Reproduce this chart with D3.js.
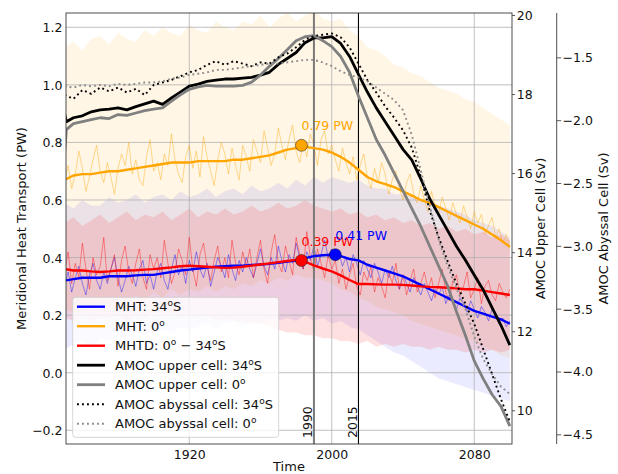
<!DOCTYPE html>
<html>
<head>
<meta charset="utf-8">
<script src="https://cdn.jsdelivr.net/npm/d3@7"></script>
<style>
  body { margin: 0; background: #fff; }
  svg { display: block; font-family: "DejaVu Sans", sans-serif; }
</style>
</head>
<body>
<svg id="chart" width="618" height="474"></svg>
<script>
// ---------- data ----------
// five-year sampling for smoothed series and ensemble spread
const smoothYears = d3.range(1850, 2101, 5);
// two-year sampling for single-member (noisy) series
const noisyYears = d3.range(1850, 2101, 2);
// AMOC upper-cell series carry an extra point for the spin-up jump
const amocUpperYears = [1850, 1851].concat(d3.range(1855, 2101, 5));

// Meridional heat transport, smoothed (PW)
const mht34Smooth = [0.32,0.325,0.33,0.33,0.33,0.335,0.335,0.335,0.338,0.34,
  0.34,0.345,0.35,0.355,0.358,0.362,0.365,0.368,0.37,0.372,
  0.372,0.374,0.376,0.378,0.382,0.386,0.39,0.398,0.405,0.408,
  0.41,0.405,0.395,0.39,0.375,0.365,0.355,0.345,0.335,0.32,
  0.305,0.29,0.275,0.26,0.245,0.23,0.215,0.205,0.195,0.185,0.17];
const mht0Smooth = [0.67,0.685,0.69,0.69,0.695,0.70,0.70,0.705,0.71,0.715,
  0.72,0.725,0.73,0.73,0.73,0.735,0.735,0.735,0.735,0.74,
  0.74,0.745,0.75,0.755,0.765,0.775,0.78,0.785,0.78,0.775,
  0.765,0.75,0.73,0.705,0.68,0.665,0.655,0.645,0.63,0.615,
  0.60,0.59,0.575,0.56,0.545,0.53,0.515,0.50,0.48,0.46,0.437];
const mhtdSmooth = [0.36,0.355,0.355,0.352,0.35,0.352,0.355,0.355,0.356,0.358,
  0.36,0.363,0.366,0.37,0.372,0.37,0.368,0.366,0.364,0.365,
  0.368,0.372,0.376,0.38,0.384,0.388,0.392,0.386,0.373,0.362,
  0.352,0.338,0.322,0.308,0.308,0.307,0.306,0.306,0.305,0.303,
  0.30,0.298,0.297,0.295,0.293,0.29,0.29,0.285,0.28,0.275,0.27];

// Single-member heat transport (PW)
const mht34Annual = [0.30,0.35,0.28,0.33,0.37,0.31,0.27,0.34,0.38,0.32,0.29,0.35,0.31,0.36,0.40,0.33,0.28,0.32,0.37,0.34,0.30,0.36,0.39,0.31,0.34,0.29,
  0.35,0.38,0.32,0.29,0.36,0.41,0.34,0.37,0.31,0.39,0.35,0.42,0.36,0.33,0.38,0.30,0.35,0.40,0.37,0.33,0.41,0.36,0.32,0.39,0.35,
  0.40,0.36,0.33,0.38,0.43,0.37,0.34,0.40,0.36,0.44,0.39,0.35,0.41,0.38,0.45,0.40,0.36,0.42,0.39,0.44,0.37,0.41,0.46,0.40,0.43,
  0.39,0.42,0.37,0.40,0.35,0.41,0.38,0.34,0.39,0.36,0.33,0.38,0.35,0.31,0.36,0.33,0.37,0.32,0.29,0.34,0.31,0.28,0.33,0.30,0.27,
  0.31,0.28,0.25,0.29,0.27,0.30,0.24,0.27,0.25,0.22,0.26,0.24,0.21,0.25,0.22,0.19,0.23,0.21,0.18,0.22,0.20,0.17,0.19,0.16,0.18];
const mht0Annual = [0.66,0.72,0.64,0.69,0.77,0.71,0.63,0.68,0.74,0.79,0.70,0.66,0.73,0.68,0.62,0.71,0.76,0.72,0.80,0.69,0.74,0.67,0.65,0.75,0.81,0.70,
  0.73,0.67,0.76,0.72,0.83,0.74,0.69,0.66,0.75,0.79,0.71,0.77,0.68,0.82,0.75,0.70,0.65,0.74,0.80,0.76,0.69,0.78,0.72,0.67,0.79,
  0.75,0.70,0.81,0.77,0.73,0.84,0.78,0.72,0.76,0.85,0.79,0.74,0.81,0.86,0.77,0.73,0.80,0.75,0.83,0.79,0.72,0.81,0.84,0.76,0.79,
  0.74,0.70,0.78,0.73,0.69,0.75,0.67,0.72,0.76,0.68,0.64,0.71,0.66,0.73,0.69,0.62,0.67,0.70,0.64,0.60,0.66,0.69,0.62,0.59,0.65,
  0.60,0.56,0.63,0.58,0.55,0.61,0.57,0.53,0.59,0.55,0.52,0.58,0.54,0.50,0.56,0.52,0.55,0.48,0.51,0.54,0.47,0.50,0.45,0.48,0.43];
const mhtdAnnual = [0.35,0.42,0.31,0.38,0.33,0.45,0.36,0.29,0.40,0.34,0.37,0.47,0.32,0.36,0.41,0.30,0.39,0.44,0.35,0.31,0.38,0.43,0.33,0.29,0.41,0.36,
  0.40,0.33,0.46,0.38,0.31,0.35,0.43,0.39,0.34,0.47,0.36,0.30,0.41,0.45,0.37,0.32,0.39,0.44,0.35,0.40,0.33,0.46,0.38,0.34,0.42,
  0.37,0.43,0.33,0.40,0.46,0.36,0.31,0.42,0.48,0.38,0.35,0.44,0.39,0.34,0.47,0.41,0.36,0.49,0.40,0.35,0.43,0.38,0.33,0.41,0.36,
  0.39,0.31,0.36,0.29,0.34,0.38,0.30,0.27,0.35,0.32,0.37,0.28,0.33,0.30,0.26,0.35,0.31,0.38,0.29,0.34,0.27,0.32,0.36,0.28,0.31,
  0.35,0.29,0.33,0.26,0.31,0.36,0.28,0.25,0.32,0.34,0.27,0.30,0.35,0.26,0.29,0.33,0.24,0.30,0.32,0.27,0.25,0.31,0.28,0.26,0.29];

// Ensemble spread of heat transport (PW)
const mht34Upper = [0.59,0.57,0.60,0.58,0.58,0.61,0.59,0.60,0.62,0.59,
  0.61,0.62,0.60,0.63,0.61,0.62,0.64,0.61,0.63,0.64,
  0.62,0.65,0.63,0.64,0.66,0.64,0.67,0.65,0.68,0.66,
  0.68,0.67,0.66,0.67,0.65,0.64,0.64,0.62,0.62,0.61,
  0.60,0.59,0.58,0.57,0.56,0.55,0.53,0.52,0.51,0.49,0.47];
const mht34Lower = [0.08,0.10,0.11,0.09,0.12,0.11,0.13,0.12,0.14,0.13,
  0.14,0.15,0.14,0.16,0.15,0.16,0.17,0.15,0.17,0.18,
  0.16,0.18,0.17,0.19,0.18,0.19,0.18,0.20,0.18,0.19,
  0.17,0.18,0.16,0.15,0.13,0.11,0.09,0.07,0.06,0.04,
  0.02,0.00,-0.02,-0.03,-0.04,-0.05,-0.06,-0.07,-0.08,-0.09,-0.10];
const mht0Upper = [1.13,1.15,1.12,1.16,1.17,1.14,1.18,1.16,1.15,1.19,
  1.17,1.20,1.18,1.17,1.21,1.19,1.18,1.22,1.20,1.19,
  1.22,1.21,1.24,1.20,1.23,1.25,1.22,1.24,1.26,1.23,
  1.22,1.23,1.19,1.17,1.13,1.12,1.10,1.07,1.06,1.04,
  1.03,1.01,0.99,0.98,0.97,0.95,0.94,0.92,0.90,0.88,0.86];
const mht0Lower = [0.22,0.21,0.24,0.22,0.25,0.23,0.26,0.24,0.27,0.25,
  0.28,0.26,0.29,0.27,0.29,0.28,0.30,0.28,0.30,0.29,
  0.31,0.30,0.32,0.31,0.33,0.32,0.34,0.33,0.33,0.32,
  0.31,0.29,0.28,0.26,0.25,0.23,0.22,0.21,0.20,0.18,
  0.17,0.16,0.15,0.14,0.13,0.12,0.11,0.09,0.08,0.06,0.05];
const mhtdUpper = [0.52,0.54,0.51,0.53,0.55,0.52,0.54,0.56,0.53,0.55,
  0.54,0.56,0.53,0.55,0.57,0.54,0.56,0.55,0.57,0.55,
  0.56,0.58,0.56,0.57,0.59,0.57,0.58,0.60,0.58,0.57,
  0.56,0.57,0.55,0.56,0.54,0.55,0.53,0.54,0.52,0.53,
  0.51,0.52,0.50,0.51,0.49,0.50,0.48,0.49,0.47,0.48,0.46];
const mhtdLower = [0.19,0.18,0.20,0.18,0.19,0.19,0.20,0.18,0.20,0.19,
  0.21,0.20,0.21,0.19,0.20,0.19,0.20,0.18,0.19,0.18,
  0.18,0.17,0.17,0.16,0.15,0.14,0.14,0.13,0.13,0.12,
  0.12,0.11,0.11,0.10,0.11,0.09,0.10,0.09,0.10,0.09,
  0.09,0.08,0.09,0.08,0.08,0.07,0.08,0.07,0.08,0.07,0.08];

// AMOC upper cell (Sv)
const amocUpper34 = [17.50,17.30,17.40,17.45,17.55,17.60,17.62,17.65,17.60,17.68,17.75,
  17.82,17.74,17.90,18.05,18.20,18.25,18.32,18.35,18.38,18.38,
  18.40,18.42,18.48,18.55,18.75,18.90,19.05,19.30,19.42,19.42,
  19.45,19.28,18.95,18.50,18.05,17.65,17.30,16.95,16.60,16.33,
  15.85,15.35,14.95,14.55,14.15,13.80,13.42,13.05,12.60,12.15,11.65];
const amocUpper0 = [16.50,17.10,17.25,17.30,17.35,17.40,17.38,17.48,17.46,17.52,17.58,
  17.62,17.65,17.82,17.98,18.12,18.18,18.22,18.20,18.20,18.20,
  18.22,18.30,18.48,18.70,18.90,19.12,19.35,19.45,19.48,19.35,
  19.20,18.95,18.55,17.95,17.40,16.85,16.45,16.00,15.55,15.10,
  14.65,14.15,13.65,13.15,12.50,11.90,11.25,10.80,10.40,10.10,9.60];

// AMOC abyssal cell (Sv)
const amocAbyss34 = [-1.80,-1.83,-1.76,-1.79,-1.74,-1.77,-1.74,-1.78,-1.75,-1.80,
  -1.72,-1.70,-1.68,-1.65,-1.62,-1.60,-1.56,-1.53,-1.56,-1.53,
  -1.55,-1.57,-1.54,-1.55,-1.50,-1.47,-1.42,-1.36,-1.33,-1.32,
  -1.31,-1.34,-1.42,-1.55,-1.68,-1.78,-1.89,-1.98,-2.08,-2.22,
  -2.45,-2.72,-2.93,-3.12,-3.30,-3.46,-3.62,-3.82,-4.02,-4.22,-4.40];
const amocAbyss0 = [-1.73,-1.74,-1.72,-1.73,-1.72,-1.73,-1.71,-1.72,-1.71,-1.70,
  -1.70,-1.69,-1.67,-1.66,-1.64,-1.63,-1.62,-1.60,-1.60,-1.59,
  -1.58,-1.57,-1.56,-1.55,-1.55,-1.54,-1.53,-1.52,-1.52,-1.54,
  -1.57,-1.61,-1.64,-1.66,-1.69,-1.74,-1.79,-1.84,-1.92,-2.12,
  -2.40,-2.68,-2.95,-3.16,-3.34,-3.50,-3.72,-3.90,-4.02,-4.12,-4.18];

// Peak heat transport markers
const peakYears  = [1983, 1983, 2002];
const peakValues = [0.79, 0.39, 0.41];
const peakColors = ["#ffa500", "#ff0000", "#0000ff"];

// Reference years
const refYears = [1990, 2015];

// Ticks
const yearTicks  = [1920, 2000, 2080];
const mhtTicks   = [-0.2, 0.0, 0.2, 0.4, 0.6, 0.8, 1.0, 1.2];
const upperTicks = [10, 12, 14, 16, 18, 20];
const abyssTicks = [-4.5, -4.0, -3.5, -3.0, -2.5, -2.0, -1.5];

// Legend entries ("^o" marks a superscript o)
const legendLabels = ["MHT: 34^oS", "MHT: 0^o", "MHTD: 0^o \u2212 34^oS",
  "AMOC upper cell: 34^oS", "AMOC upper cell: 0^o",
  "AMOC abyssal cell: 34^oS", "AMOC abyssal cell: 0^o"];

// ---------- layout ----------
const svg = d3.select("#chart");
const P = { left: 66, right: 512, top: 13, bottom: 444 };
const abyssSpineX = 556.7;

const x  = d3.scaleLinear().domain([1850.8, 2101.2]).range([P.left, P.right]);
const yL = d3.scaleLinear().domain([-0.2477, 1.2496]).range([P.bottom, P.top]);
const yU = d3.scaleLinear().domain([9.147, 20.05]).range([P.bottom, P.top]);
const yA = d3.scaleLinear().domain([-4.577, -1.147]).range([P.bottom, P.top]);

svg.append("defs").append("clipPath").attr("id", "plotclip")
  .append("rect").attr("x", P.left).attr("y", P.top)
  .attr("width", P.right - P.left).attr("height", P.bottom - P.top);

const plot = svg.append("g").attr("clip-path", "url(#plotclip)");

const area = (yrs, lo, hi, sc) => d3.area()
  .x((d, i) => x(yrs[i])).y0((d, i) => sc(lo[i])).y1((d, i) => sc(hi[i]))(lo);
const line = (yrs, vals, sc) => d3.line()
  .x((d, i) => x(yrs[i])).y(d => sc(d))(vals.slice(0, yrs.length));

// ensemble spread
[[mht0Lower, mht0Upper, "#ffa500", 0.10],
 [mht34Lower, mht34Upper, "#0000ff", 0.08],
 [mhtdLower, mhtdUpper, "#ff0000", 0.12]].forEach(([lo, hi, c, a]) => {
  plot.append("path").attr("d", area(smoothYears, lo, hi, yL))
    .attr("fill", c).attr("fill-opacity", a).attr("stroke", "none");
});

// grid
const grid = plot.append("g").attr("stroke", "#b0b0b0").attr("stroke-width", 0.8);
mhtTicks.forEach(t => grid.append("line")
  .attr("x1", P.left).attr("x2", P.right).attr("y1", yL(t)).attr("y2", yL(t)));
yearTicks.forEach(t => grid.append("line")
  .attr("y1", P.top).attr("y2", P.bottom).attr("x1", x(t)).attr("x2", x(t)));

// single-member series
[[mht34Annual, "#0000ff"], [mht0Annual, "#ffa500"], [mhtdAnnual, "#ff0000"]].forEach(([v, c]) => {
  plot.append("path").attr("d", line(noisyYears, v, yL))
    .attr("fill", "none").attr("stroke", c).attr("stroke-width", 0.8).attr("stroke-opacity", 0.5);
});

// reference years
plot.append("line").attr("x1", x(refYears[0])).attr("x2", x(refYears[0]))
  .attr("y1", P.top).attr("y2", P.bottom).attr("stroke", "#7a7a7a").attr("stroke-width", 2);
plot.append("line").attr("x1", x(refYears[1])).attr("x2", x(refYears[1]))
  .attr("y1", P.top).attr("y2", P.bottom).attr("stroke", "#000").attr("stroke-width", 1.1);
refYears.forEach(yr => {
  svg.append("text")
    .attr("transform", `translate(${x(yr) - 1.8},${438}) rotate(-90)`)
    .attr("font-size", 12.5).attr("fill", "#111").text(yr);
});

// smoothed heat transport
[[mht34Smooth, "#0000ff"], [mht0Smooth, "#ffa500"], [mhtdSmooth, "#ff0000"]].forEach(([v, c]) => {
  plot.append("path").attr("d", line(smoothYears, v, yL))
    .attr("fill", "none").attr("stroke", c).attr("stroke-width", 2.4)
    .attr("stroke-linejoin", "round");
});

// peak markers
peakYears.forEach((yr, i) => {
  plot.append("circle").attr("cx", x(yr)).attr("cy", yL(peakValues[i])).attr("r", 6)
    .attr("fill", peakColors[i]).attr("stroke", "#000").attr("stroke-opacity", 0.55)
    .attr("stroke-width", 0.8);
});
peakYears.forEach((yr, i) => {
  svg.append("text").attr("x", x(yr)).attr("y", yL(peakValues[i]) - 14.8)
    .attr("font-size", 12.5).attr("fill", peakColors[i])
    .text(peakValues[i].toFixed(2) + " PW");
});

// AMOC upper cell
[[amocUpper34, "#000000"], [amocUpper0, "#808080"]].forEach(([v, c]) => {
  plot.append("path").attr("d", line(amocUpperYears, v, yU))
    .attr("fill", "none").attr("stroke", c).attr("stroke-width", 2.8)
    .attr("stroke-linejoin", "round");
});
// AMOC abyssal cell
[[amocAbyss34, "#000000"], [amocAbyss0, "#8c8c8c"]].forEach(([v, c]) => {
  plot.append("path").attr("d", line(smoothYears, v, yA))
    .attr("fill", "none").attr("stroke", c).attr("stroke-width", 1.9)
    .attr("stroke-dasharray", "1.9,3.1");
});

// ---------- axes ----------
const minus = s => s.replace("-", "\u2212");
const styleAxis = g => {
  g.select(".domain").remove();
  g.selectAll("text").attr("font-size", 12.5).attr("fill", "#111")
    .attr("font-family", "DejaVu Sans, sans-serif");
  g.selectAll(".tick line").attr("stroke", "#333").attr("stroke-width", 0.8);
};

svg.append("g").attr("transform", `translate(${P.left},0)`)
  .call(d3.axisLeft(yL).tickValues(mhtTicks).tickSize(0).tickPadding(3.5)
    .tickFormat(d => minus(d3.format(".1f")(d))))
  .call(styleAxis).selectAll("text").attr("dy", "0.36em");

svg.append("g").attr("transform", `translate(0,${P.bottom})`)
  .call(d3.axisBottom(x).tickValues(yearTicks).tickSize(0).tickPadding(6)
    .tickFormat(d3.format("d")))
  .call(styleAxis);

svg.append("g").attr("transform", `translate(${P.right},0)`)
  .call(d3.axisRight(yU).tickValues(upperTicks).tickSize(3).tickPadding(1.8)
    .tickFormat(d3.format("d")))
  .call(styleAxis).selectAll("text").attr("dy", "0.36em");

svg.append("g").attr("transform", `translate(${abyssSpineX},0)`)
  .call(d3.axisRight(yA).tickValues(abyssTicks).tickSize(4.5).tickPadding(1.3)
    .tickFormat(d => minus(d3.format(".1f")(d))))
  .call(styleAxis).selectAll("text").attr("dy", "0.36em");

// spines
svg.append("rect").attr("x", P.left).attr("y", P.top)
  .attr("width", P.right - P.left).attr("height", P.bottom - P.top)
  .attr("fill", "none").attr("stroke", "#3a3a3a").attr("stroke-width", 0.9);
svg.append("line").attr("x1", abyssSpineX).attr("x2", abyssSpineX)
  .attr("y1", P.top).attr("y2", P.bottom).attr("stroke", "#3a3a3a").attr("stroke-width", 0.9);

// axis titles
const midY = (P.top + P.bottom) / 2;
svg.append("text").attr("transform", `translate(26,${midY}) rotate(-90)`)
  .attr("text-anchor", "middle").attr("font-size", 13).attr("fill", "#111")
  .text("Meridional Heat Transport (PW)");
svg.append("text").attr("transform", `translate(544.5,${midY}) rotate(-90)`)
  .attr("text-anchor", "middle").attr("font-size", 13).attr("fill", "#111")
  .text("AMOC Upper Cell (Sv)");
svg.append("text").attr("transform", `translate(607.5,${midY}) rotate(-90)`)
  .attr("text-anchor", "middle").attr("font-size", 13).attr("fill", "#111")
  .text("AMOC Abyssal Cell (Sv)");
svg.append("text").attr("x", (P.left + P.right) / 2).attr("y", 471)
  .attr("text-anchor", "middle").attr("font-size", 13).attr("fill", "#111").text("Time");

// ---------- legend ----------
const legendStyles = [
  { c: "#0000ff", w: 2.4 }, { c: "#ffa500", w: 2.4 }, { c: "#ff0000", w: 2.4 },
  { c: "#000000", w: 2.8 }, { c: "#808080", w: 2.8 },
  { c: "#000000", w: 1.9, dash: "1.9,3.1" }, { c: "#8c8c8c", w: 1.9, dash: "1.9,3.1" }];
const lg = svg.append("g");
lg.append("rect").attr("x", 72.7).attr("y", 297.3).attr("width", 206).attr("height", 140)
  .attr("rx", 3).attr("fill", "#fff").attr("fill-opacity", 0.8)
  .attr("stroke", "#cccccc").attr("stroke-width", 0.8);
legendLabels.forEach((lab, i) => {
  const cy = 306.7 + i * 19.5;
  const s = legendStyles[i];
  lg.append("line").attr("x1", 77).attr("x2", 105).attr("y1", cy).attr("y2", cy)
    .attr("stroke", s.c).attr("stroke-width", s.w)
    .attr("stroke-dasharray", s.dash || null);
  const t = lg.append("text").attr("x", 115).attr("y", cy + 4.6)
    .attr("font-size", 13).attr("fill", "#111");
  const parts = lab.split("^o");
  parts.forEach((p, j) => {
    if (p.length) t.append("tspan").attr("dy", j > 0 ? 5 : null).text(p);
    else if (j > 0) t.append("tspan").attr("dy", 5).text("");
    if (j < parts.length - 1) t.append("tspan").attr("dy", -5).attr("font-size", 9).text("o");
  });
});
</script>
</body>
</html>
